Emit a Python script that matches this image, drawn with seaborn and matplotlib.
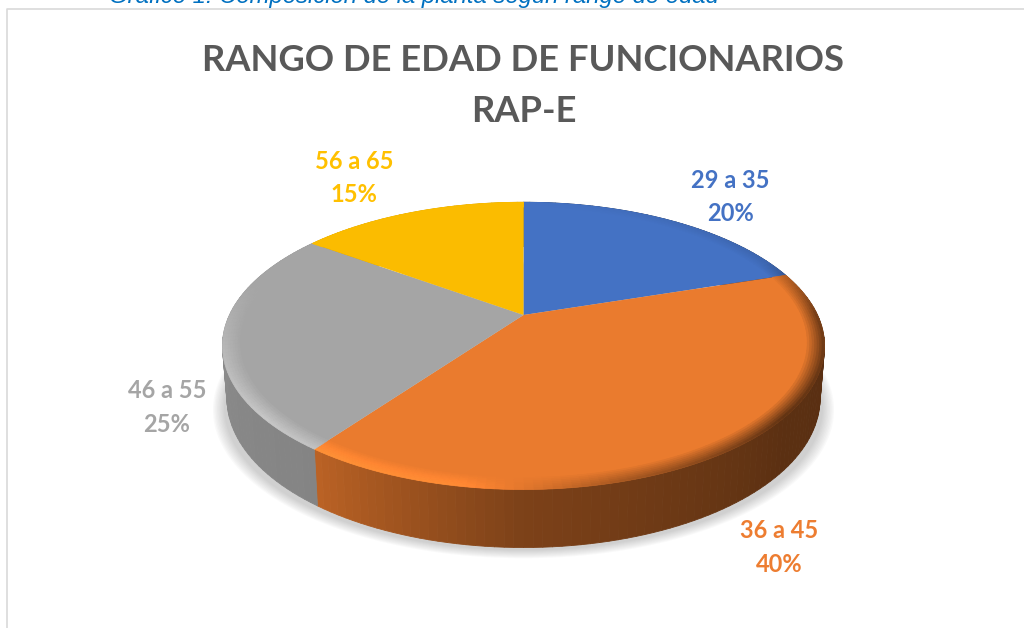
import numpy as np
import matplotlib
matplotlib.use("Agg")
import matplotlib.pyplot as plt
import seaborn as sns
from matplotlib.collections import PolyCollection
from matplotlib.path import Path
from matplotlib.transforms import Transform

CATEGORIES = ["29 a 35", "36 a 45", "46 a 55", "56 a 65"]
VALUES = [20, 40, 25, 15]
COLORS = ["#4472C4", "#EA7B2E", "#A5A5A5", "#FBBC00"]
LABEL_COLORS = ["#4472C4", "#ED7D31", "#A5A5A5", "#FFC000"]
PERCENT_LABELS = ["20%", "40%", "25%", "15%"]
TITLE = "RANGO DE EDAD DE FUNCIONARIOS\nRAP-E"
CAPTION = "Gráfico 1: Composición de la planta según rango de edad"

# view geometry of the tilted disc
CX, CY = 523.5, 315.0
A, B, K = 294.0, 137.0, 0.215
LABEL_POS = [(730, 197), (779, 547.5), (167, 407.5), (354, 178)]

sns.set_theme(style="white")
plt.rcParams["font.family"] = ["Lato", "DejaVu Sans"]
palette = sns.color_palette(COLORS)


def warp(x, y, drop=0.0, shrink=1.0):
    w = 1 + K * y
    return CX + shrink * A * x / w, CY - B * y / w + drop


class Tilt(Transform):
    input_dims = output_dims = 2
    is_separable = False
    has_inverse = False

    def __init__(self, drop=0.0):
        super().__init__()
        self.drop = drop

    def transform_non_affine(self, values):
        px, py = warp(values[:, 0], values[:, 1], self.drop)
        return np.column_stack([px, py])

    def transform_path_non_affine(self, path):
        ts = np.linspace(0, 1, 25)
        pts = np.vstack([seg(ts) for seg, _ in path.iter_bezier() if seg.degree > 0])
        return Path(self.transform_non_affine(pts), closed=False)


def shade(color, f):
    c = np.array(color)
    return tuple(np.clip(c * f, 0, 1))


SIDE_TH = [0, 72, 100, 130, 180, 216, 240, 270, 360]
SIDE_F = [.38, .38, .38, .39, .53, .80, .82, .85, .85]
RIM_TH = [0, 65, 90, 130, 165, 190, 230, 255, 285, 360]
RIM_F = [1, .9, .5, .42, .72, 1.13, 1.2, 1.12, 1, 1]

fig = plt.figure(figsize=(10.24, 6.28), dpi=100)
ax = fig.add_axes([0, 0, 1, 1])

# soft shadow
for r in np.linspace(1.03, .995, 9):
    w, _ = ax.pie([1], radius=r, colors=["#555555"], startangle=90,
                  wedgeprops=dict(linewidth=0, edgecolor="none"))
    w[0].set_transform(Tilt(62) + ax.transData)
    w[0].set_alpha(.03)
    w[0].set_zorder(1)

edges = np.cumsum([0] + VALUES) / sum(VALUES) * 360

# side wall and bevel, from the same slice angles
side_p, side_c, rim_p, rim_c = [], [], [], []
RINGS = np.linspace(.945, 1, 8)
for i, col in enumerate(palette):
    th = np.arange(edges[i], edges[i + 1] + .01, 1.5)
    for t0, t1 in zip(th[:-1], th[1:]):
        a, b = np.radians([t0, t1])
        tm = (t0 + t1) / 2
        x0, y0 = warp(np.sin(a), np.cos(a))
        x1, y1 = warp(np.sin(b), np.cos(b))
        d0 = 51 - 7 * np.cos(a)
        d1 = 51 - 7 * np.cos(b)
        x2, y2 = warp(np.sin(b), np.cos(b), d1, .985)
        x3, y3 = warp(np.sin(a), np.cos(a), d0, .985)
        side_p.append([(x0, y0), (x1, y1), (x2, y2), (x3, y3)])
        side_c.append(shade(col, np.interp(tm, SIDE_TH, SIDE_F)))
        for j, (r0, r1) in enumerate(zip(RINGS[:-1], RINGS[1:])):
            t = (j + 1) / (len(RINGS) - 1)
            f = 1 + (np.interp(tm, RIM_TH, RIM_F) - 1) * t
            q = [warp(r0 * np.sin(a), r0 * np.cos(a)), warp(r0 * np.sin(b), r0 * np.cos(b)),
                 warp(r1 * np.sin(b), r1 * np.cos(b)), warp(r1 * np.sin(a), r1 * np.cos(a))]
            rim_p.append(q)
            rim_c.append(shade(col, f))

ax.add_collection(PolyCollection(side_p, facecolors=side_c, edgecolors=side_c, linewidths=.6, zorder=2))

wedges, _ = ax.pie(VALUES, colors=palette, startangle=90, counterclock=False, radius=1.0,
                   wedgeprops=dict(linewidth=0, edgecolor="none"))
for w in wedges:
    w.set_transform(Tilt() + ax.transData)
    w.set_zorder(3)

ax.add_collection(PolyCollection(rim_p, facecolors=rim_c, edgecolors=rim_c, linewidths=.5, zorder=4))

ax.set_aspect("auto")
ax.set_xlim(0, 1024)
ax.set_ylim(628, 0)
ax.axis("off")

# frame of the embedded chart, caption clipped by the page crop
ax.plot([7, 7, 1024], [628, 9, 9], color="#D9D9D9", lw=1.2, zorder=0)
ax.text(414, 3, CAPTION, ha="center", va="baseline", style="italic", color="#0070C0",
        fontsize=17.2, family=["Liberation Sans"])

ax.text(523.5, 86, TITLE, ha="center", va="center", color="#595959", fontsize=26.2,
        fontweight="bold", linespacing=1.7)

for cat, pct, col, (lx, ly) in zip(CATEGORIES, PERCENT_LABELS, LABEL_COLORS, LABEL_POS):
    ax.text(lx, ly, f"{cat}\n{pct}", ha="center", va="center", color=col, fontsize=17,
            fontweight="bold", linespacing=1.55, zorder=6)

fig.savefig("out.png", dpi=100, facecolor="white")
